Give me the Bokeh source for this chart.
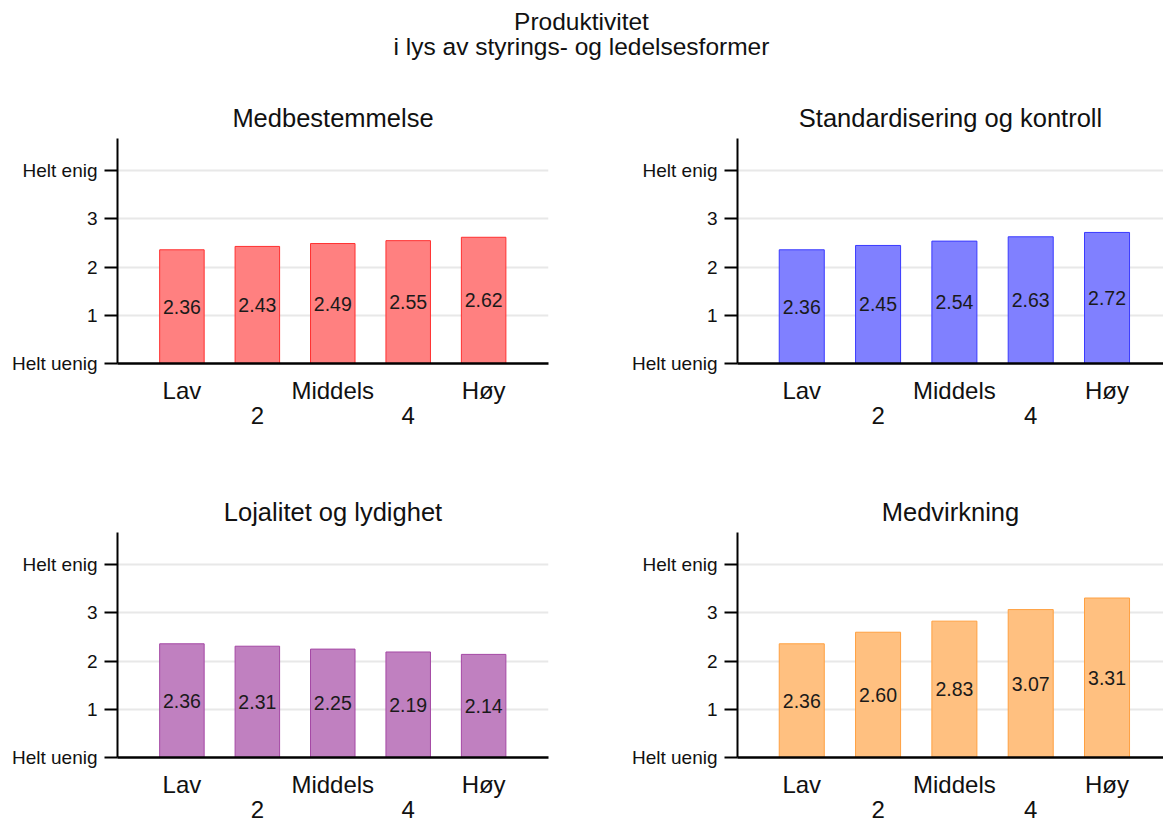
from bokeh.plotting import figure
from bokeh.models import Range1d, FixedTicker, Div, ColumnDataSource
from bokeh.layouts import column, row
from bokeh.core.properties import value
from bokeh.embed import file_html
from bokeh.resources import INLINE

# ---- data ----
levels = [1, 2, 3, 4, 5]
x_tick_labels = {1: "Lav", 2: "\n2", 3: "Middels", 4: "\n4", 5: "Høy"}
y_tick_labels = {0: "Helt uenig", 1: "1", 2: "2", 3: "3", 4: "Helt enig"}

main_title = ["Produktivitet", "i lys av styrings- og ledelsesformer"]
titles = ["Medbestemmelse", "Standardisering og kontroll",
          "Lojalitet og lydighet", "Medvirkning"]
medbestemmelse = [2.36, 2.43, 2.49, 2.55, 2.62]
standardisering = [2.36, 2.45, 2.54, 2.63, 2.72]
lojalitet = [2.36, 2.31, 2.25, 2.19, 2.14]
medvirkning = [2.36, 2.60, 2.83, 3.07, 3.31]
series = [medbestemmelse, standardisering, lojalitet, medvirkning]

fills = ["#ff8080", "#8080ff", "#c080c0", "#ffc080"]
lines = ["#ff3030", "#3a3aff", "#a448a4", "#ffa040"]

FONT = "Liberation Sans"


def make_panel(title, vals, fill, line, height, border_top, border_bottom,
               border_left, width, frame_w, xstart, xend, title_offset=0):
    p = figure(width=width, height=height, output_backend="svg",
               toolbar_location=None, x_range=Range1d(xstart, xend),
               y_range=Range1d(0, 4.67),
               min_border_left=border_left,
               min_border_right=width - border_left - frame_w,
               min_border_top=border_top, min_border_bottom=border_bottom)
    p.title.text = title
    p.title.align = "center"
    p.title.text_font = FONT
    p.title.text_font_size = "25.5px"
    p.title.text_font_style = "normal"
    p.title.text_color = "#111111"
    p.title.standoff = 14
    p.title.offset = title_offset
    p.outline_line_color = None
    p.background_fill_color = "white"
    p.border_fill_color = "white"

    src = ColumnDataSource(dict(x=levels, top=vals,
                                mid=[v / 2 for v in vals],
                                lab=["%.2f" % v for v in vals]))
    p.vbar(x="x", top="top", bottom=0, width=0.59, source=src,
           fill_color=fill, line_color=line, line_width=1)
    p.text(x="x", y="mid", text="lab", source=src, text_align="center",
           text_baseline="middle", text_font=value(FONT),
           text_font_size="19.5px", text_color="#1a1a1a")

    p.xgrid.visible = False
    p.ygrid.ticker = FixedTicker(ticks=[1, 2, 3, 4])
    p.ygrid.grid_line_color = "#e8e8e8"
    p.ygrid.grid_line_width = 2

    ya = p.yaxis[0]
    ya.ticker = FixedTicker(ticks=[0, 1, 2, 3, 4])
    ya.major_label_overrides = y_tick_labels
    ya.major_label_text_font = FONT
    ya.major_label_text_font_size = "19px"
    ya.major_label_text_color = "#111111"
    ya.major_tick_out = 13
    ya.major_tick_in = 0
    ya.major_tick_line_width = 2
    ya.major_tick_line_color = "black"
    ya.minor_tick_line_color = None
    ya.axis_line_width = 2
    ya.axis_line_color = "black"
    ya.major_label_standoff = 7

    xa = p.xaxis[0]
    xa.ticker = FixedTicker(ticks=levels)
    xa.major_label_overrides = x_tick_labels
    xa.major_label_text_font = FONT
    xa.major_label_text_font_size = "24px"
    xa.major_label_text_line_height = 0.95
    xa.major_label_text_color = "#111111"
    xa.major_tick_out = 0
    xa.major_tick_in = 0
    xa.minor_tick_line_color = None
    xa.axis_line_width = 2.5
    xa.axis_line_color = "black"
    xa.major_label_standoff = 13
    return p


p1 = make_panel(titles[0], series[0], fills[0], lines[0], 394, 68, 101, 117, 580, 431, 0.146, 5.86)
p2 = make_panel(titles[1], series[1], fills[1], lines[1], 394, 68, 101, 157, 583, 426, 0.158, 5.74, 2)
p3 = make_panel(titles[2], series[2], fills[2], lines[2], 365, 68, 72, 117, 580, 431, 0.146, 5.86)
p4 = make_panel(titles[3], series[3], fills[3], lines[3], 365, 68, 72, 157, 583, 426, 0.158, 5.74, 2)

head = Div(text="<div style='width:1163px;text-align:center;font-family:\"Liberation Sans\";"
                "font-size:24.5px;line-height:25px;padding-top:9px;color:#111;'>"
                + main_title[0] + "<br>" + main_title[1] + "</div>",
           width=1163, height=70, margin=0)

layout = column(head, row(p1, p2, spacing=0), row(p3, p4, spacing=0), spacing=0)

open("out.html", "w").write(file_html(layout, INLINE))
